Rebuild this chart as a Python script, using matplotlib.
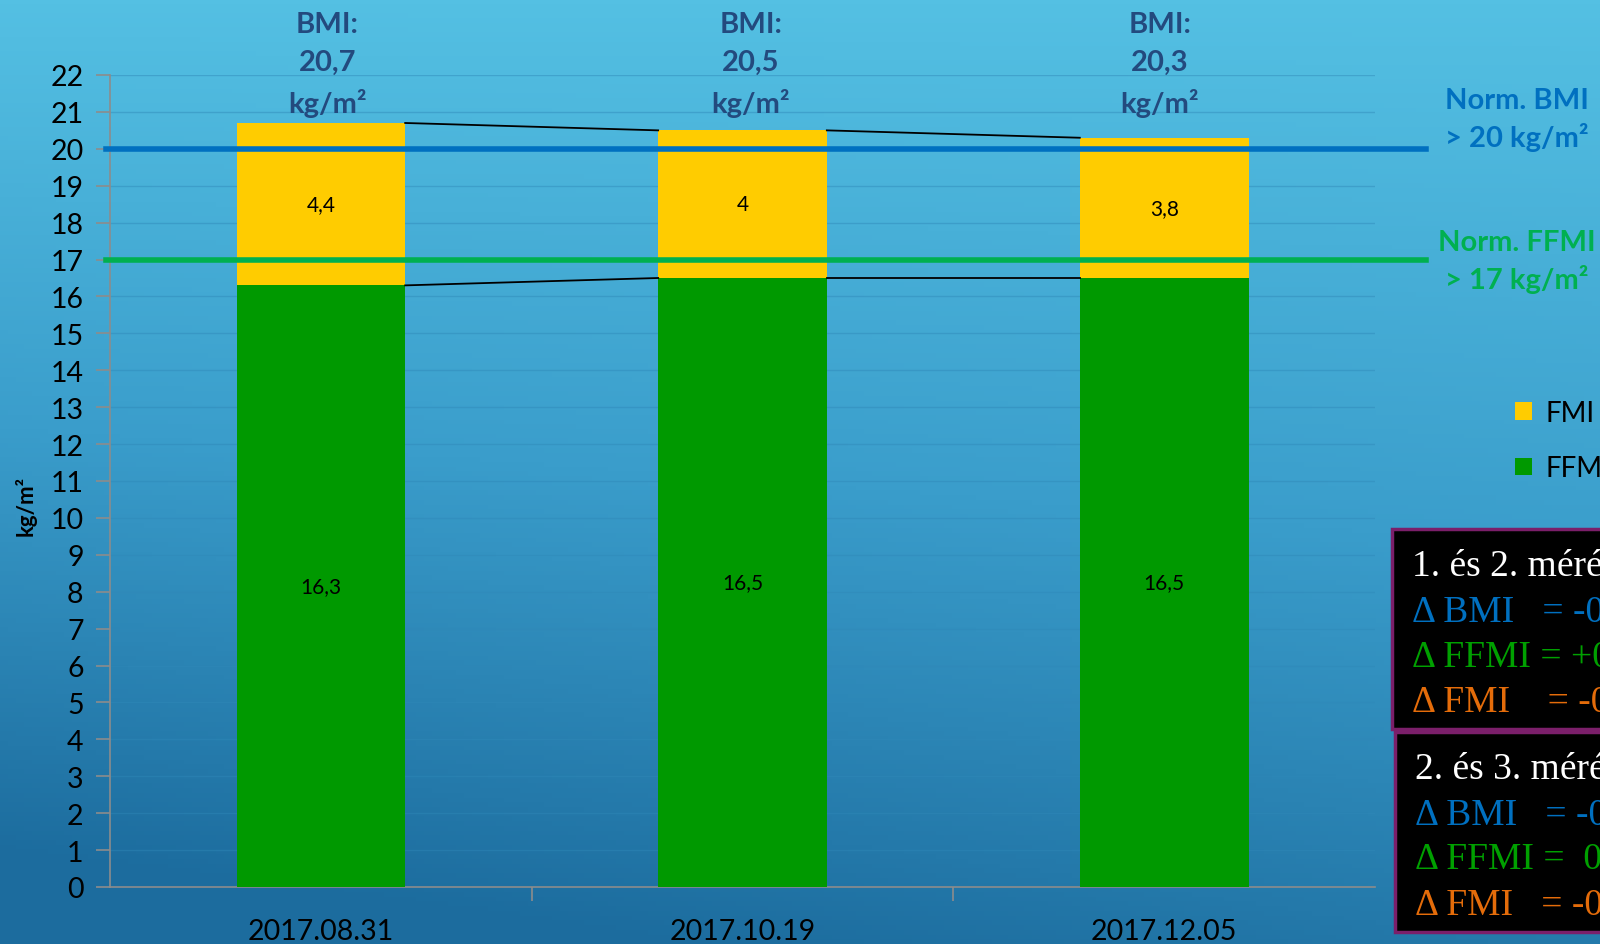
import numpy as np
import matplotlib.pyplot as plt
from matplotlib.colors import LinearSegmentedColormap
from matplotlib.patches import Rectangle

# adatok
dates = ['2017.08.31', '2017.10.19', '2017.12.05']
ffmi = [16.3, 16.5, 16.5]
fmi = [4.4, 4.0, 3.8]
bmi_labels = ['20,7', '20,5', '20,3']
ffmi_labels = ['16,3', '16,5', '16,5']
fmi_labels = ['4,4', '4', '3,8']
norm_bmi = 20
norm_ffmi = 17
yticks = list(range(0, 23))

box1 = ['1. és 2. mérés között', '\u0394 BMI   = -0,2', '\u0394 FFMI = +0,2', '\u0394 FMI    = -0,4']
box2 = ['2. és 3. mérés között', '\u0394 BMI   = -0,2', '\u0394 FFMI =  0', '\u0394 FMI   = -0,2']

plt.rcParams['font.family'] = ['Lato', 'DejaVu Sans']

fig = plt.figure(figsize=(16, 9.45), dpi=100)

# háttér színátmenet
bg = fig.add_axes([0, 0, 1, 1], zorder=-10)
yy, xx = np.mgrid[0:1:200j, 0:1:200j]
t = np.clip(yy * 0.85 + (1 - xx) * yy * 0.25, 0, 1)
cmap = LinearSegmentedColormap.from_list('bg', ['#54C0E3', '#3A9DCB', '#1C6C9E'])
bg.imshow(t, cmap=cmap, aspect='auto', extent=[0, 1, 0, 1], origin='upper')
bg.axis('off')

W, H = 1600, 945
left, right, top, bottom = 110, 1375, 76, 888
ax = fig.add_axes([left / W, 1 - bottom / H, (right - left) / W, (bottom - top) / H])
ax.patch.set_alpha(0)

x = np.arange(len(dates))
bw = 0.4
b1 = ax.bar(x, ffmi, bw, color='#009900', label='FFMI', zorder=3)
b2 = ax.bar(x, fmi, bw, bottom=ffmi, color='#FFCC00', label='FMI', zorder=3)

# sorozatvonalak
tops = np.array(ffmi) + np.array(fmi)
for i in range(len(x) - 1):
    ax.plot([x[i] + bw / 2, x[i + 1] - bw / 2], [tops[i], tops[i + 1]], color='black', lw=1.3, zorder=4)
    ax.plot([x[i] + bw / 2, x[i + 1] - bw / 2], [ffmi[i], ffmi[i + 1]], color='black', lw=1.3, zorder=4)

# normák
ax.plot([-0.51, 2.62], [norm_bmi, norm_bmi], color='#0070C0', lw=4, clip_on=False, zorder=5)
ax.plot([-0.51, 2.62], [norm_ffmi, norm_ffmi], color='#00B050', lw=4, clip_on=False, zorder=5)

# adatfeliratok
offs = [0.015, 0.02, -0.01]
for i in range(len(x)):
    ax.text(x[i], ffmi[i] / 2, ffmi_labels[i], ha='center', va='center', fontsize=15, zorder=6)
    ax.text(x[i], ffmi[i] + fmi[i] / 2, fmi_labels[i], ha='center', va='center', fontsize=15, zorder=6)
    ax.text(x[i] + offs[i], 1.079, 'BMI:\n' + bmi_labels[i] + '\nkg/m\u00b2', ha='center', va='top',
            transform=ax.get_xaxis_transform(), fontsize=21, fontweight='bold', color='#234A7E',
            linespacing=1.55, clip_on=False, zorder=6)

ax.set_xlim(-0.5, 2.5)
ax.set_ylim(0, 22)
ax.set_yticks(yticks)
ax.set_xticks([0.5, 1.5])
ax.set_xticklabels([])
for i in range(len(x)):
    ax.text(x[i], -1.2, dates[i], ha='center', va='center', fontsize=20.5)
ax.tick_params(axis='y', labelsize=20.5, length=10, color='#8C8C8C', width=1.2, pad=9)
ax.tick_params(axis='x', length=10, color='#8C8C8C', width=1.2)
ax.grid(axis='y', color='#2F88B8', alpha=0.45, lw=1, zorder=0)
for s in ['top', 'right']:
    ax.spines[s].set_visible(False)
for s in ['left', 'bottom']:
    ax.spines[s].set_color('#8C8C8C')
    ax.spines[s].set_linewidth(1.2)
ax.set_ylabel('kg/m\u00b2', fontsize=16, fontweight='bold')
ax.yaxis.set_label_coords(-0.058, 0.47)

# norma feliratok
fig.text(1517 / W, 1 - 120 / H, 'Norm. BMI\n> 20 kg/m\u00b2', ha='center', va='center', fontsize=21,
         fontweight='bold', color='#0070C0', linespacing=1.4)
fig.text(1517 / W, 1 - 262 / H, 'Norm. FFMI\n> 17 kg/m\u00b2', ha='center', va='center', fontsize=21,
         fontweight='bold', color='#00B050', linespacing=1.4)

# jelmagyarázat
fig.legend(handles=[b2, b1], loc='upper left', bbox_to_anchor=(1490 / W, 1 - 376 / H), frameon=False,
           fontsize=20, handlelength=0.6, handleheight=0.6, labelspacing=1.05, handletextpad=0.5)

# dobozok
serif = ['Liberation Serif', 'DejaVu Serif']
colors = ['white', '#0070C0', '#00A000', '#E46C0A']
for (bx, by, lines) in [(1392, 530, box1), (1395, 733, box2)]:
    fig.patches.append(Rectangle((bx / W, 1 - (by + 200) / H), 300 / W, 200 / H, transform=fig.transFigure,
                                 facecolor='black', edgecolor='#7B1F6A', lw=2.5))
    for k, line in enumerate(lines):
        fig.text((bx + 20) / W, 1 - (by + 37 + 45 * k) / H, line, ha='left', va='center',
                 fontsize=27, color=colors[k], family=serif)

fig.savefig('out.png', dpi=100)
